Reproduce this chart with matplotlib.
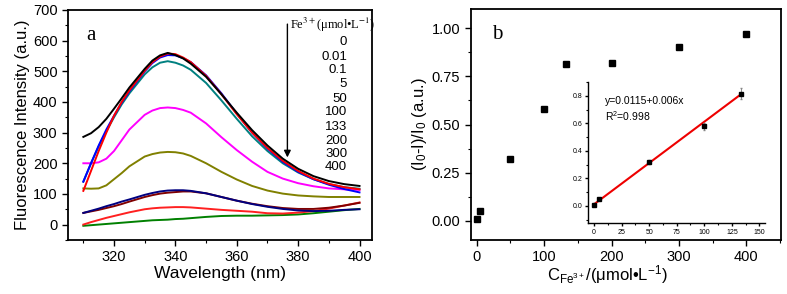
import matplotlib
matplotlib.use("Agg")
import matplotlib.pyplot as plt
from matplotlib.ticker import MultipleLocator, FormatStrFormatter

plt.rcParams['font.family'] = ['Liberation Sans', 'DejaVu Sans']
plt.rcParams['mathtext.fontset'] = 'custom'
plt.rcParams['mathtext.rm'] = 'Liberation Sans'
plt.rcParams['mathtext.it'] = 'Liberation Sans:italic'

# panel a: fluorescence spectra
wavelength = [310, 312.5, 315, 317.5, 320, 322.5, 325, 330, 332.5, 335, 337.5,
              340, 342.5, 345, 350, 355, 360, 365, 370, 375, 380, 385, 390, 395, 400]
conc_labels = ['0', '0.01', '0.1', '5', '50', '100', '133', '200', '300', '400']
spectra = [
    [286, 298, 318, 345, 378, 412, 447, 508, 535, 552, 560, 553, 542, 525, 482, 425, 365, 308, 258, 215, 182, 158, 142, 132, 126],
    [110, 175, 240, 300, 355, 400, 438, 502, 530, 548, 558, 556, 545, 530, 485, 425, 360, 300, 250, 208, 175, 150, 133, 122, 115],
    [140, 200, 258, 310, 355, 398, 435, 500, 527, 545, 553, 552, 543, 530, 487, 428, 362, 300, 248, 205, 172, 148, 130, 116, 105],
    [140, 200, 255, 305, 350, 392, 428, 490, 513, 528, 533, 528, 519, 505, 462, 405, 345, 288, 240, 200, 170, 148, 132, 122, 117],
    [200, 200, 203, 215, 240, 275, 310, 358, 372, 380, 382, 380, 374, 365, 330, 285, 243, 205, 172, 150, 135, 125, 118, 115, 113],
    [118, 117, 118, 128, 148, 168, 190, 222, 230, 235, 237, 236, 232, 224, 200, 172, 147, 126, 111, 101, 95, 92, 90, 90, 90],
    [38, 45, 52, 60, 67, 75, 82, 97, 103, 108, 111, 112, 112, 110, 102, 90, 78, 67, 58, 51, 46, 44, 45, 48, 50],
    [38, 43, 48, 54, 60, 67, 75, 90, 96, 101, 104, 106, 108, 108, 102, 90, 78, 68, 60, 54, 51, 51, 55, 62, 71],
    [0, 8, 15, 22, 28, 34, 40, 50, 53, 55, 56, 57, 57, 56, 52, 48, 45, 42, 37, 36, 39, 44, 52, 62, 72],
    [-4, -2, 0, 2, 4, 6, 8, 12, 14, 15, 16, 18, 19, 21, 25, 28, 29, 29, 30, 31, 33, 37, 42, 47, 51],
]
colors = ['#000000', '#ff0000', '#0000ff', '#008080', '#ff00ff',
          '#808000', '#000080', '#800000', '#ff2020', '#008000']
label_y = [597, 546, 504, 457, 411, 366, 319, 273, 230, 187]

# panel b: quenching ratio
conc = [0, 5, 50, 100, 133, 200, 300, 400]
ratio = [0.01, 0.05, 0.32, 0.58, 0.815, 0.82, 0.905, 0.97]

# inset: linear range
lin_conc = [0, 5, 50, 100, 133]
lin_ratio = [0.01, 0.05, 0.32, 0.58, 0.815]
lin_err = [0.01, 0.01, 0.012, 0.025, 0.04]
fit_x = [0, 133]
fit_y = [0.0115, 0.0115 + 0.006 * 133]

fig = plt.figure(figsize=(7.87, 2.94), dpi=100)


def style_axes(ax, lw=1.3, size=9):
    for s in ax.spines.values():
        s.set_linewidth(lw)
    ax.tick_params(which='major', direction='out', length=4, width=1.0,
                   labelsize=size, top=False, right=False)
    ax.tick_params(which='minor', direction='out', length=2, width=0.8,
                   top=False, right=False)


ax = fig.add_axes([0.0864, 0.184, 0.386, 0.782])
for vals, c in reversed(list(zip(spectra, colors))):
    ax.plot(wavelength, vals, color=c, lw=1.4)
ax.set_xlim(305, 404)
ax.set_ylim(-50, 700)
ax.xaxis.set_major_locator(MultipleLocator(20))
ax.xaxis.set_minor_locator(MultipleLocator(10))
ax.yaxis.set_major_locator(MultipleLocator(100))
ax.yaxis.set_minor_locator(MultipleLocator(50))
style_axes(ax, size=10.5)
ax.set_xlabel('Wavelength (nm)', fontsize=12.5, labelpad=1)
ax.set_ylabel('Fluorescence Intensity (a.u.)', fontsize=12, labelpad=2)
ax.text(0.06, 0.93, 'a', transform=ax.transAxes, fontsize=15,
        family='Liberation Serif', va='top')
ax.annotate('', xy=(376.5, 210), xytext=(376.5, 663),
            arrowprops=dict(arrowstyle='-|>', color='black', lw=1.0,
                            mutation_scale=10))
ax.text(377.5, 650, 'Fe$^{3+}$(μmol•L$^{-1}$)', fontsize=9,
        family='Liberation Serif', math_fontfamily='stix', va='center')
for lab, yy in zip(conc_labels, label_y):
    ax.text(396, yy, lab, fontsize=9.5, ha='right', va='center')

axb = fig.add_axes([0.598, 0.184, 0.394, 0.785])
axb.plot(conc, ratio, 'ks', markersize=4)
axb.set_xlim(-9, 451)
axb.set_ylim(-0.1, 1.1)
axb.xaxis.set_major_locator(MultipleLocator(100))
axb.xaxis.set_minor_locator(MultipleLocator(50))
axb.yaxis.set_major_locator(MultipleLocator(0.25))
axb.yaxis.set_minor_locator(MultipleLocator(0.125))
axb.yaxis.set_major_formatter(FormatStrFormatter('%.2f'))
style_axes(axb, size=10.5)
axb.set_xlabel('C$_{\\mathrm{Fe^{3+}}}$/(μmol•L$^{-1}$)', fontsize=12, labelpad=1)
axb.xaxis.set_label_coords(0.44, -0.1)
axb.set_ylabel('(I$_0$-I)/I$_0$ (a.u.)', fontsize=12, labelpad=2)
axb.text(0.07, 0.93, 'b', transform=axb.transAxes, fontsize=15,
         family='Liberation Serif', va='top')

ins = fig.add_axes([0.747, 0.241, 0.225, 0.480])
ins.plot(fit_x, fit_y, color='#ee0000', lw=1.5)
ins.errorbar(lin_conc, lin_ratio, yerr=lin_err, fmt='s', color='black',
             markersize=2.5, ecolor='#888888', elinewidth=0.7, capsize=1)
ins.set_xlim(-5.5, 155)
ins.set_ylim(-0.125, 0.9)
ins.xaxis.set_major_locator(MultipleLocator(25))
ins.xaxis.set_minor_locator(MultipleLocator(12.5))
ins.yaxis.set_major_locator(MultipleLocator(0.2))
ins.yaxis.set_minor_locator(MultipleLocator(0.1))
ins.yaxis.set_major_formatter(FormatStrFormatter('%.1f'))
ins.spines['top'].set_visible(False)
ins.spines['right'].set_visible(False)
ins.patch.set_alpha(0)
style_axes(ins, lw=1.0, size=5)
ins.tick_params(which='major', length=2.5, pad=1.5)
ins.tick_params(which='minor', length=1.5)
ins.text(10, 0.76, 'y=0.0115+0.006x', fontsize=7.5, va='center')
ins.text(10, 0.65, 'R$^2$=0.998', fontsize=7.5, va='center')

fig.savefig('out.png', dpi=100)
